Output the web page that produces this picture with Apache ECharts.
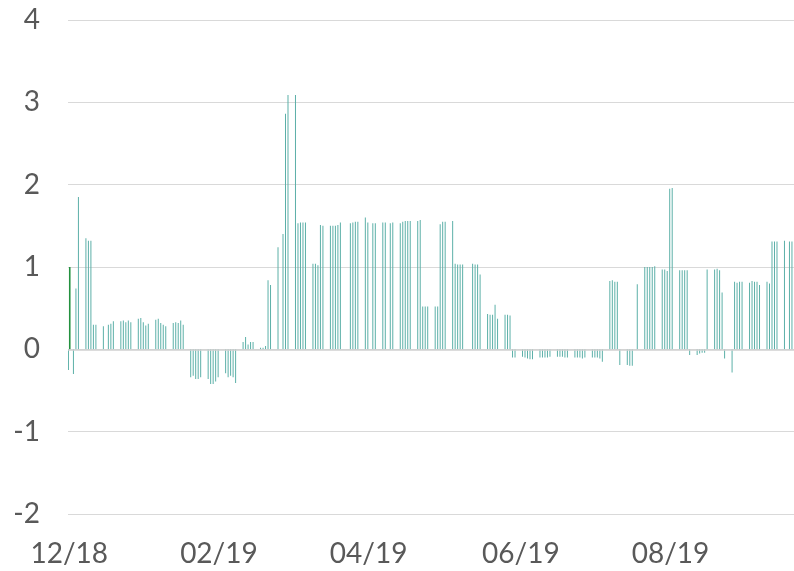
<!DOCTYPE html>
<html>
<head>
<meta charset="utf-8">
<script src="https://cdn.jsdelivr.net/npm/echarts/dist/echarts.min.js"></script>
</head>
<body style="margin: 0">
<div id="container" style="width: 794px; height: 571px"></div>
<script>
// daily axis, first Monday .. last day shown
var startDate = '2018-12-10';
var lastDate = '2019-09-26';
// dates where the month labels sit
var tickDates = ['2018-12-10', '2019-02-08', '2019-04-09', '2019-06-09', '2019-08-08'];
// single green bar on the first day
var flagDate = '2018-12-10';
var flagValue = 1;
// one row per week, Mon..Fri (null = no bar)
var weeks = [
    [-0.25, null, -0.30, 0.74, 1.85],
    [1.35, 1.32, 1.32, 0.30, 0.30],
    [0.28, null, 0.30, 0.31, 0.34],
    [0.34, 0.35, 0.33, 0.35, 0.33],
    [0.37, 0.38, 0.33, 0.29, 0.31],
    [0.36, 0.37, 0.32, 0.30, 0.28],
    [0.32, 0.33, 0.32, 0.35, 0.30],
    [-0.34, -0.32, -0.36, -0.36, -0.34],
    [-0.36, -0.42, -0.42, -0.39, -0.34],
    [-0.29, -0.34, -0.32, -0.34, -0.41],
    [0.09, 0.15, 0.06, 0.09, 0.09],
    [0.02, 0.02, 0.04, 0.84, 0.78],
    [1.24, null, 1.40, 2.86, 3.09],
    [3.09, 1.53, 1.54, 1.54, 1.54],
    [1.04, 1.04, 1.02, 1.51, 1.50],
    [1.50, 1.50, 1.50, 1.51, 1.54],
    [null, 1.53, 1.54, 1.55, 1.55],
    [1.60, 1.54, null, 1.53, 1.53],
    [1.54, 1.54, null, 1.53, 1.54],
    [1.53, 1.55, 1.56, 1.56, 1.56],
    [1.56, 1.57, 0.52, 0.52, 0.52],
    [0.52, 0.52, 1.52, 1.55, 1.55],
    [1.56, 1.04, 1.03, 1.03, 1.03],
    [null, 1.04, 1.03, 1.03, 0.91],
    [0.43, 0.42, 0.42, 0.54, 0.37],
    [0.42, 0.42, 0.41, -0.10, -0.10],
    [-0.09, -0.10, -0.11, -0.12, -0.12],
    [-0.10, -0.10, -0.10, -0.10, -0.09],
    [-0.09, -0.09, -0.09, -0.10, -0.10],
    [-0.10, -0.10, -0.10, -0.11, -0.10],
    [-0.10, -0.10, -0.10, -0.11, -0.15],
    [0.83, 0.84, 0.82, 0.82, -0.19],
    [-0.19, -0.20, -0.20, null, 0.79],
    [1.00, 1.00, 1.00, 1.00, 1.01],
    [0.97, 0.97, 0.95, 1.95, 1.96],
    [0.96, 0.96, 0.96, 0.96, -0.07],
    [-0.07, -0.05, -0.04, -0.04, 0.97],
    [0.97, 0.98, 0.96, 0.69, -0.11],
    [-0.28, 0.82, 0.81, 0.82, 0.82],
    [0.81, 0.83, 0.82, 0.82, 0.78],
    [0.82, 0.80, 1.31, 1.31, 1.31],
    [1.32, null, 1.31, 1.31]
];
var yTicks = {min: -2, max: 4, step: 1};

// build the calendar categories and put the weekday values on them
var dates = [];
var values = [];
var p = startDate.split('-');
for (var i = 0; ; i++) {
    var d = new Date(Date.UTC(+p[0], +p[1] - 1, +p[2] + i)).toISOString().slice(0, 10);
    if (d > lastDate) break;
    dates.push(d);
    var row = weeks[Math.floor(i / 7)] || [];
    var v = row[i % 7];
    values.push(v === undefined ? null : v);
}

var dom = document.getElementById('container');
var myChart = echarts.init(dom);
var labelFont = {fontFamily: 'Lato', fontSize: 28, color: '#595959'};

var option = {
    animation: false,
    grid: {left: 68, top: 20, width: 727.5, height: 494},
    xAxis: {
        type: 'category',
        data: dates,
        boundaryGap: true,
        axisLine: {show: false},
        axisTick: {show: false},
        splitLine: {show: false},
        axisLabel: Object.assign({
            margin: 26,
            interval: function (idx, val) {
                return tickDates.indexOf(val) >= 0;
            },
            formatter: function (val) {
                return val.slice(5, 7) + '/' + val.slice(2, 4);
            }
        }, labelFont)
    },
    yAxis: {
        type: 'value',
        min: yTicks.min,
        max: yTicks.max,
        interval: yTicks.step,
        axisLine: {show: false},
        axisTick: {show: false},
        axisLabel: Object.assign({margin: 28}, labelFont),
        splitLine: {lineStyle: {color: '#d9d9d9', width: 1}}
    },
    series: [
        {
            type: 'bar',
            data: values,
            barWidth: 1,
            barGap: '0%',
            itemStyle: {color: '#5cb0a8'},
            markLine: {
                silent: true,
                symbol: 'none',
                label: {show: false},
                lineStyle: {color: '#d0d0d0', width: 1.5, type: 'solid'},
                data: [{yAxis: 0}]
            }
        },
        {
            type: 'bar',
            data: [[flagDate, flagValue]],
            barWidth: 1.6,
            barGap: '0%',
            itemStyle: {color: '#23913f'}
        }
    ]
};
myChart.setOption(option);
</script>
</body>
</html>
